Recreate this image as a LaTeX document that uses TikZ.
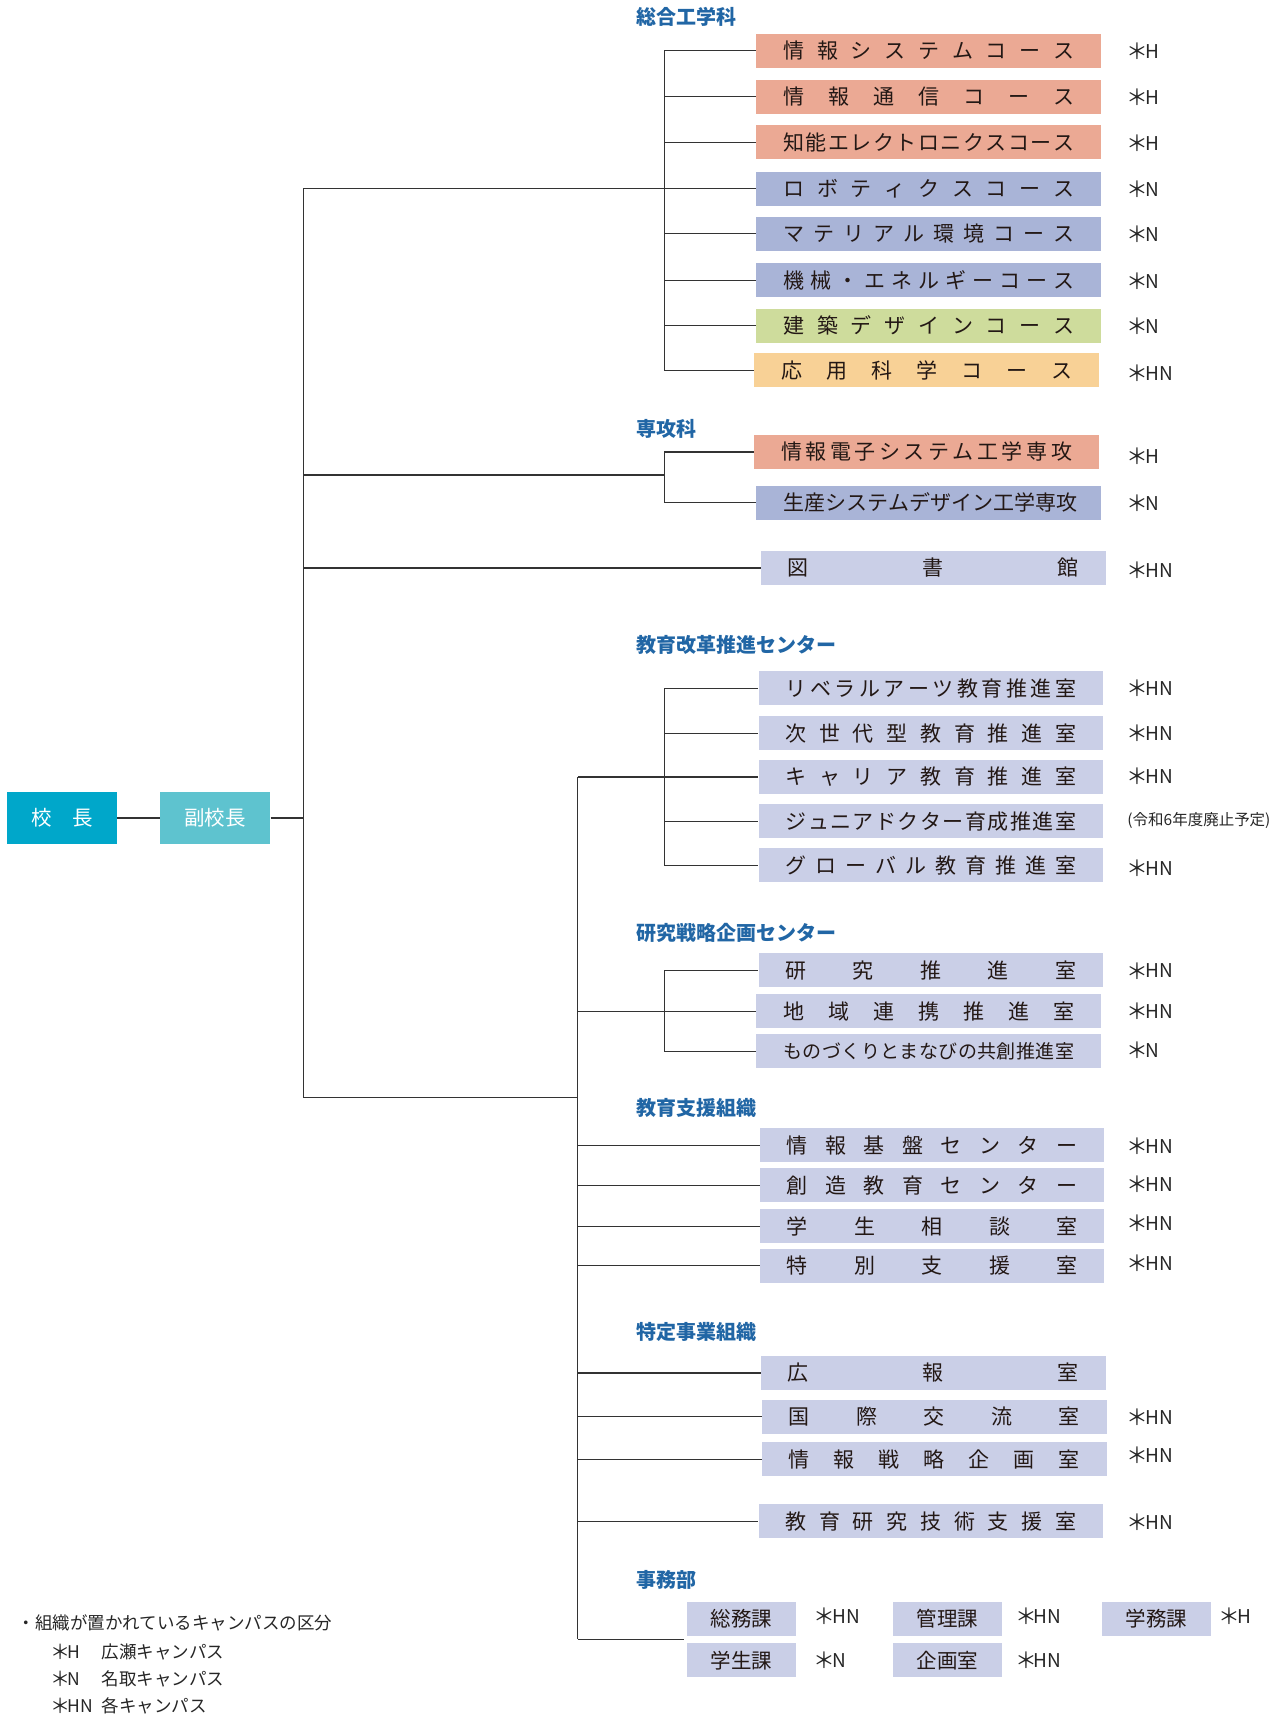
\documentclass[tikz,border=0pt]{standalone}
\usepackage{fontspec}
\usepackage{graphicx}
\setmainfont{Noto Sans CJK JP}
\definecolor{kocho}{HTML}{00A7CA}
\definecolor{fuku}{HTML}{5EC3CF}
\definecolor{salmon}{HTML}{EBA994}
\definecolor{bluep}{HTML}{A9B4D7}
\definecolor{greenb}{HTML}{CEDC9C}
\definecolor{orangeb}{HTML}{F8D196}
\definecolor{lav}{HTML}{CACFE7}
\definecolor{ttl}{HTML}{2166A5}
\definecolor{ink}{HTML}{231815}
\makeatletter
\def\jdistA#1#2\jend{#1\if\relax\detokenize{#2}\relax\else\hfill\jdistA#2\jend\fi}
\makeatother
\newcommand\jdist[2]{\makebox[#1][s]{\jdistA#2\jend}}
\newcommand\kome{\makebox[0.84em][l]{\hspace{-0.14em}\raisebox{-0.06em}{\scalebox{1.15}{＊}}}}
\tikzset{
  conn/.style={draw=black!80, line width=1.2pt},
  box/.style={rectangle, anchor=west, inner sep=0pt, minimum width=344.8pt, minimum height=34pt, text=ink, font=\fontsize{21}{21}\selectfont},
  sbox/.style={rectangle, anchor=west, inner sep=0pt, minimum width=108.4pt, minimum height=34pt, fill=lav, text=ink, font=\fontsize{20.5}{20.5}\selectfont},
  lab/.style={anchor=west, inner sep=0pt, text=black!85, font=\fontsize{19}{19}\selectfont},
  ttlstyle/.style={anchor=west, inner sep=0pt, text=ttl, font=\fontsize{20}{20}\selectfont\bfseries},
  leg/.style={anchor=west, inner sep=0pt, text=black!85, font=\fontsize{17.5}{17.5}\selectfont},
  top/.style={rectangle, anchor=west, inner sep=0pt, minimum width=110.5pt, minimum height=51.5pt, text=white, font=\fontsize{20.5}{20.5}\selectfont}
}
\begin{document}
\begin{tikzpicture}[x=1.0946pt, y=-1.0946pt]
\useasboundingbox (0,0) rectangle (1173,1568);
% junction x positions
\coordinate (tM) at (277,0);
\coordinate (tA) at (607,0);
\coordinate (tS) at (528,0);
% top
\node[top, fill=kocho] (kocho) at (6,747.5) {校\hspace{1em}長};
\node[top, fill=fuku] (fuku) at (146,747.5) {副校長};
% titles
\node[ttlstyle] (t1) at (581,15) {総合工学科};
\node[ttlstyle] (t2) at (581,392) {専攻科};
\node[ttlstyle] (t3) at (581,589) {教育改革推進センター};
\node[ttlstyle] (t4) at (581,852) {研究戦略企画センター};
\node[ttlstyle] (t5) at (581,1012) {教育支援組織};
\node[ttlstyle] (t6) at (581,1217) {特定事業組織};
\node[ttlstyle] (t7) at (581,1444) {事務部};
% 総合工学科
\node[box, fill=salmon] (a1) at (691,46.5) {\jdist{291pt}{情報システムコース}};
\node[box, fill=salmon] (a2) at (691,88.5) {\jdist{291pt}{情報通信コース}};
\node[box, fill=salmon] (a3) at (691,130) {\jdist{291pt}{知能エレクトロニクスコース}};
\node[box, fill=bluep] (a4) at (691,172.5) {\jdist{291pt}{ロボティクスコース}};
\node[box, fill=bluep] (a5) at (691,213.5) {\jdist{291pt}{マテリアル環境コース}};
\node[box, fill=bluep] (a6) at (691,256) {\jdist{291pt}{機械・エネルギーコース}};
\node[box, fill=greenb] (a7) at (691,297.5) {\jdist{291pt}{建築デザインコース}};
\node[box, fill=orangeb] (a8) at (689,338.5) {\jdist{291pt}{応用科学コース}};
% 専攻科
\node[box, fill=salmon] (b1) at (689,413) {\jdist{291pt}{情報電子システム工学専攻}};
\node[box, fill=bluep] (b2) at (691,459.5) {\jdist{291pt}{生産システムデザイン工学専攻}};
% 図書館
\node[box, fill=lav] (lib) at (695,519) {\jdist{291pt}{図書館}};
% 教育改革推進センター
\node[box, fill=lav] (c1) at (693,629) {\jdist{291pt}{リベラルアーツ教育推進室}};
\node[box, fill=lav] (c2) at (693,670) {\jdist{291pt}{次世代型教育推進室}};
\node[box, fill=lav] (c3) at (693,710) {\jdist{291pt}{キャリア教育推進室}};
\node[box, fill=lav] (c4) at (693,750.5) {\jdist{291pt}{ジュニアドクター育成推進室}};
\node[box, fill=lav] (c5) at (693,790.5) {\jdist{291pt}{グローバル教育推進室}};
% 研究戦略企画センター
\node[box, fill=lav] (d1) at (693,886.5) {\jdist{291pt}{研究推進室}};
\node[box, fill=lav] (d2) at (691,924) {\jdist{291pt}{地域連携推進室}};
\node[box, fill=lav, font=\fontsize{19}{19}\selectfont] (d3) at (691,960.5) {\jdist{291pt}{ものづくりとまなびの共創推進室}};
% 教育支援組織
\node[box, fill=lav] (e1) at (694,1046.5) {\jdist{291pt}{情報基盤センター}};
\node[box, fill=lav] (e2) at (694,1083) {\jdist{291pt}{創造教育センター}};
\node[box, fill=lav] (e3) at (694,1120.5) {\jdist{291pt}{学生相談室}};
\node[box, fill=lav] (e4) at (694,1156.5) {\jdist{291pt}{特別支援室}};
% 特定事業組織
\node[box, fill=lav] (f1) at (695,1254.5) {\jdist{291pt}{広報室}};
\node[box, fill=lav] (f2) at (696,1294.5) {\jdist{291pt}{国際交流室}};
\node[box, fill=lav] (f3) at (696,1333.5) {\jdist{291pt}{情報戦略企画室}};
\node[box, fill=lav] (f4) at (693,1390) {\jdist{291pt}{教育研究技術支援室}};
% 事務部
\node[sbox] (g1) at (628,1479.5) {総務課};
\node[sbox] (g2) at (816,1479.5) {管理課};
\node[sbox] (g3) at (1007,1479.5) {学務課};
\node[sbox] (g4) at (628,1517) {学生課};
\node[sbox] (g5) at (816,1517) {企画室};
% campus labels
\node[lab] (la1) at (1032,47) {\kome H};
\node[lab] (la2) at (1032,89) {\kome H};
\node[lab] (la3) at (1032,131) {\kome H};
\node[lab] (la4) at (1032,173) {\kome N};
\node[lab] (la5) at (1032,214) {\kome N};
\node[lab] (la6) at (1032,257) {\kome N};
\node[lab] (la7) at (1032,298) {\kome N};
\node[lab] (la8) at (1032,341) {\kome HN};
\node[lab] (lb1) at (1032,417) {\kome H};
\node[lab] (lb2) at (1032,460) {\kome N};
\node[lab] (llib) at (1032,521) {\kome HN};
\node[lab] (lc1) at (1032,629) {\kome HN};
\node[lab] (lc2) at (1032,670) {\kome HN};
\node[lab] (lc3) at (1032,709) {\kome HN};
\node[lab, font=\fontsize{15.5}{15.5}\selectfont] (lc4) at (1030,750) {(令和6年度廃止予定)};
\node[lab] (lc5) at (1032,793) {\kome HN};
\node[lab] (ld1) at (1032,887) {\kome HN};
\node[lab] (ld2) at (1032,924) {\kome HN};
\node[lab] (ld3) at (1032,960) {\kome N};
\node[lab] (le1) at (1032,1047) {\kome HN};
\node[lab] (le2) at (1032,1082) {\kome HN};
\node[lab] (le3) at (1032,1118) {\kome HN};
\node[lab] (le4) at (1032,1154) {\kome HN};
\node[lab] (lf2) at (1032,1295) {\kome HN};
\node[lab] (lf3) at (1032,1330) {\kome HN};
\node[lab] (lf4) at (1032,1391) {\kome HN};
\node[lab] (lg1) at (746,1477) {\kome HN};
\node[lab] (lg2) at (930,1477) {\kome HN};
\node[lab] (lg3) at (1116,1477) {\kome H};
\node[lab] (lg4) at (746,1517) {\kome N};
\node[lab] (lg5) at (930,1517) {\kome HN};
% legend
\node[leg] (lg0) at (16,1483) {・組織が置かれているキャンパスの区分};
\node[leg] (lgH) at (48,1509) {\kome H};
\node[leg] (lgHt) at (93,1509) {広瀬キャンパス};
\node[leg] (lgN) at (48,1534) {\kome N};
\node[leg] (lgNt) at (93,1534) {名取キャンパス};
\node[leg] (lgHN) at (48,1559) {\kome HN};
\node[leg] (lgHNt) at (93,1559) {各キャンパス};
% connectors
\coordinate (mBot) at (277,1003);
\coordinate (jB) at (607,434);
\coordinate (sBot) at (528,1498);
\coordinate (gEnd) at (625,1498);
\draw[conn] (kocho.east) -- (fuku.west);
\draw[conn] (fuku.east) -- (fuku.east -| tM);
\draw[conn] (a4.west -| tM) -- (mBot);
\draw[conn] (a1.west -| tA) -- (a8.west -| tA);
\foreach \n in {a1,a2,a3,a5,a6,a7,a8} \draw[conn] (\n.west -| tA) -- (\n.west);
\draw[conn] (a4.west -| tM) -- (a4.west);
\draw[conn] (b1.west -| tA) -- (b2.west -| tA);
\foreach \n in {b1,b2} \draw[conn] (\n.west -| tA) -- (\n.west);
\draw[conn] (jB -| tM) -- (jB);
\draw[conn] (lib.west -| tM) -- (lib.west);
\draw[conn] (mBot) -- (mBot -| tS);
\draw[conn] (c3.west -| tS) -- (sBot);
\draw[conn] (c1.west -| tA) -- (c5.west -| tA);
\foreach \n in {c1,c2,c4,c5} \draw[conn] (\n.west -| tA) -- (\n.west);
\draw[conn] (c3.west -| tS) -- (c3.west);
\draw[conn] (d1.west -| tA) -- (d3.west -| tA);
\foreach \n in {d1,d3} \draw[conn] (\n.west -| tA) -- (\n.west);
\draw[conn] (d2.west -| tS) -- (d2.west);
\foreach \n in {e1,e2,e3,e4,f1,f2,f3,f4} \draw[conn] (\n.west -| tS) -- (\n.west);
\draw[conn] (sBot) -- (gEnd);
\end{tikzpicture}
\end{document}
